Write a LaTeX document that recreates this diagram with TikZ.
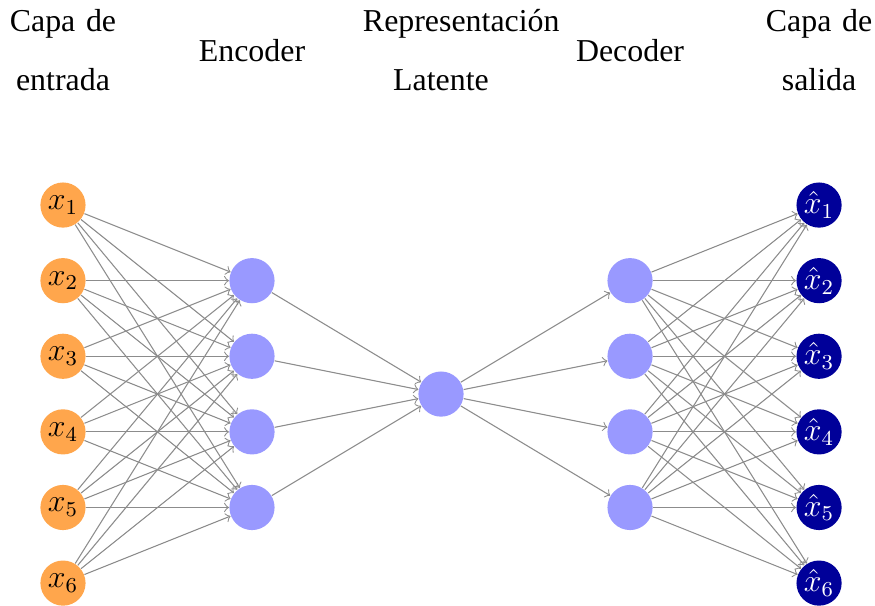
\documentclass[tikz,border=0pt]{standalone}
\usepackage{fontspec}
\setmainfont{Liberation Serif}
\begin{document}
\begin{tikzpicture}[
  >=to,
  every node/.style={font=\fontsize{12}{14.5}\selectfont},
  inputneuron/.style={circle, fill=orange!70, minimum size=17pt, inner sep=0pt},
  hiddenneuron/.style={circle, fill=blue!40, minimum size=17pt, inner sep=0pt},
  outputneuron/.style={circle, fill=blue!60!black, text=white, minimum size=17pt, inner sep=0pt},
  link/.style={->, draw=black!45},
  header/.style={font=\fontsize{12}{22.2}\selectfont, align=center, inner sep=0pt, anchor=base},
]
\useasboundingbox (-0.833,-6.291) rectangle (10.74,1.712);

% layers
\foreach \i in {1,...,6}
  \node[inputneuron] (I\i) at (0,-\i) {$x_{\i}$};
\foreach \i in {1,...,4}
  \node[hiddenneuron] (E\i) at (2.5,-\i-1) {};
\node[hiddenneuron] (L) at (5,-3.5) {};
\foreach \i in {1,...,4}
  \node[hiddenneuron] (D\i) at (7.5,-\i-1) {};
\foreach \i in {1,...,6}
  \node[outputneuron] (O\i) at (10,-\i) {$\hat{x}_{\i}$};

% connections
\foreach \s in {1,...,6}
  \foreach \t in {1,...,4}
    \draw[link] (I\s) -- (E\t);
\foreach \s in {1,...,4}
  \draw[link] (E\s) -- (L);
\foreach \t in {1,...,4}
  \draw[link] (L) -- (D\t);
\foreach \s in {1,...,4}
  \foreach \t in {1,...,6}
    \draw[link] (D\s) -- (O\t);

% layer titles
\node[header, text width=2.2cm] (hin) at (0,1.292) {Capa de\\entrada};
\node[header] (henc) at (2.5,0.898) {Encoder};
\node[header, text width=2.064cm] (hlat) at (5,1.292) {\mbox{Representación}\\Latente};
\node[header] (hdec) at (7.5,0.898) {Decoder};
\node[header, text width=2.2cm] (hout) at (10,1.292) {Capa de\\salida};
\end{tikzpicture}
\end{document}
